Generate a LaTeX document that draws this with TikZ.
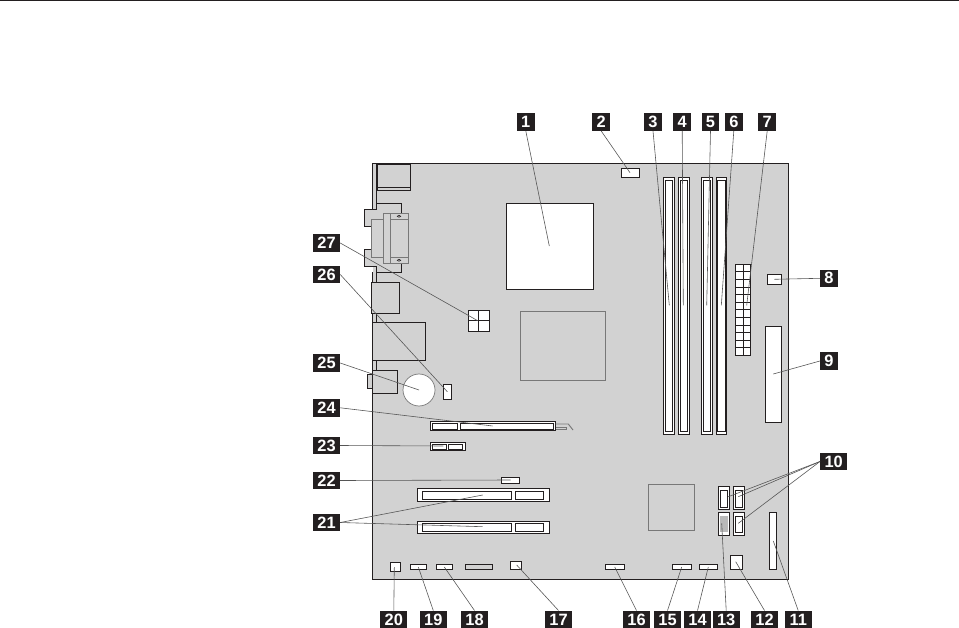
\documentclass[tikz,border=0pt]{standalone}
\usepackage{fontspec}
\setmainfont{Liberation Sans}
\usepackage{xcolor}
\definecolor{pcblack}{RGB}{35,31,32}
\definecolor{pcboard}{RGB}{210,210,210}
\definecolor{pcedge}{RGB}{120,120,120}
\definecolor{pcleader}{RGB}{85,85,85}
\definecolor{pcdrive}{RGB}{185,185,185}
\usetikzlibrary{positioning}

\begin{document}
\begin{tikzpicture}[x=0.03cm, y=-0.03cm,
    part/.style={draw=pcblack, fill=white, line width=0.7pt},
    plain/.style={draw=pcblack, line width=0.7pt},
    soft/.style={draw=pcedge, line width=0.8pt},
    leader/.style={draw=pcleader, line width=0.5pt},
    callout/.style={fill=pcblack, text=white, font=\fontsize{14}{14}\selectfont\bfseries, inner sep=0pt, minimum width=0.53cm, minimum height=0.525cm},
    calloutwide/.style={callout, minimum width=0.81cm}]
  \useasboundingbox (0,0) rectangle (959,628);

  % Page rule
  \draw[pcblack, line width=0.8pt] (0,0.6) -- (959,0.6);

  % Board
  \fill[pcboard] (372.5,163.5) rectangle (788.5,579.5);
  \draw[plain, line width=0.8pt] (372.5,209.3) -- (372.5,163.5) -- (788.5,163.5) -- (788.5,579.5) -- (372.5,579.5) -- (372.5,272.3);

  % Rear connectors
  \draw[plain] (376.7,163.5) -- (376.7,203.3);
  \draw[plain] (377.3,164) rectangle (410.7,190);
  \draw[plain] (377.3,187.5) -- (410.7,187.5);
  \draw[plain, fill=pcboard] (401.7,212.7) -- (401.7,203.3) -- (376.7,203.3) -- (376.7,209.3) -- (364.3,209.3) -- (364.3,226.3) -- (371.3,226.3);
  \draw[plain, fill=pcboard] (371.3,249.3) -- (364.3,249.3) -- (364.3,266.3) -- (376.7,266.3) -- (376.7,272.3) -- (401.7,272.3) -- (401.7,263.3);
  \draw[soft, fill=pcboard] (371.3,219.3) -- (383.7,219.3) -- (383.7,213.3) -- (408.3,213.3) -- (408.3,263.3) -- (383.7,263.3) -- (383.7,257.7) -- (371.3,257.7) -- cycle;
  \draw[soft] (383.7,219.3) -- (383.7,257.7);
  \draw[soft] (390.7,213.3) -- (390.7,263.3);
  \draw[soft] (390.7,219.3) -- (408.3,219.3);
  \draw[soft] (390.7,257.3) -- (408.3,257.3);
  \draw[plain, line width=0.5pt] (399,216.3) ellipse (1.7 and 1);
  \draw[plain, line width=0.5pt] (399,260.3) ellipse (1.7 and 1);
  \draw[plain] (372.5,272.3) -- (372.5,282.3) (376.7,272.3) -- (376.7,282.3);
  \draw[plain, fill=pcboard] (371.3,282.3) rectangle (399.3,313.3);
  \draw[plain] (376.7,313.3) -- (376.7,322.3);
  \draw[plain] (372.5,322.3) rectangle (425.7,360.3);
  \draw[plain] (376.7,360.3) -- (376.7,370.3);
  \draw[plain, fill=pcboard] (367.3,374) rectangle (372.5,388.7);
  \draw[plain] (372.5,370.3) rectangle (397.7,393.3);

  % Processor and chips
  \draw[part] (506.3,203.3) rectangle (593,289.3);
  \draw[soft] (520,311.3) rectangle (605,380.3);
  \draw[soft] (648.3,484.3) rectangle (694.7,530.7);

  % Battery, small headers
  \draw[draw=pcedge, fill=white, line width=0.6pt] (419,390) circle (16);
  \draw[part] (443.3,384.3) rectangle (451.3,399.3);
  \draw[part] (468.3,310.7) rectangle (489.3,331.3);
  \draw[plain] (478.7,310.7) -- (478.7,331.3) (468.3,320.7) -- (489.3,320.7);
  \draw[part] (621.3,168.3) rectangle (639.7,177.3);

  % Memory slots
  \draw[part] (663.3,177.3) rectangle (674.7,434.7);
  \draw[part] (665.5,180.3) rectangle (672.5,431.3);
  \draw[part] (678.3,177.3) rectangle (689.7,434.7);
  \draw[part] (680.5,180.3) rectangle (687.5,431.3);
  \draw[part] (701.3,177.3) rectangle (712.7,434.7);
  \draw[part] (703.5,180.3) rectangle (710.5,431.3);
  \draw[part] (716.3,177.3) rectangle (726.7,434.7);
  \draw[part, line width=1.1pt] (717.3,180.3) rectangle (725.7,431.3);

  % Power connector
  \draw[part] (735.3,264.3) rectangle (750.7,355.7);
  \draw[plain] (742.9,264.3) -- (742.9,355.7)
    (735.3,271.9) -- (750.7,271.9) (735.3,279.5) -- (750.7,279.5)
    (735.3,287.1) -- (750.7,287.1) (735.3,294.7) -- (750.7,294.7)
    (735.3,302.3) -- (750.7,302.3) (735.3,309.9) -- (750.7,309.9)
    (735.3,317.5) -- (750.7,317.5) (735.3,325.1) -- (750.7,325.1)
    (735.3,332.7) -- (750.7,332.7) (735.3,340.3) -- (750.7,340.3)
    (735.3,347.9) -- (750.7,347.9);
  \draw[part] (767.3,274.3) rectangle (781.7,284.7);
  \draw[part] (765.3,326.3) rectangle (781.7,422.7);

  % Graphics slot
  \draw[part] (430.3,421.3) rectangle (555.7,430.7);
  \draw[part] (432.3,423.3) rectangle (457.7,429.3);
  \draw[part] (460.3,423.3) rectangle (553.7,429.3);
  \draw[soft] (555.7,424) -- (568.3,424) -- (573,430);
  \draw[soft] (555.7,427) -- (566,427) -- (566,429.5) -- (555.7,429.5);

  % Short slot
  \draw[part] (430.3,442.3) rectangle (465.7,450.3);
  \draw[part] (432.3,444.3) rectangle (446.7,449);
  \draw[part] (448.3,444.3) rectangle (462.7,449);
  \draw[part] (501.3,477.3) rectangle (519.7,483.3);

  % PCI slots
  \draw[part] (417.3,488.3) rectangle (549.7,501.7);
  \draw[part] (422.3,491.3) rectangle (511.7,499.7);
  \draw[part] (515.3,491.3) rectangle (543.7,499.7);
  \draw[part] (417.3,521.3) rectangle (549.7,533.7);
  \draw[part] (422.3,523.3) rectangle (511.7,531.7);
  \draw[part] (515.3,523.3) rectangle (543.7,531.7);

  % Bottom headers
  \draw[part] (390.3,562.3) rectangle (400.7,571.7);
  \draw[part] (410.3,564.3) rectangle (426.7,569.7);
  \draw[part] (436.3,564.3) rectangle (452.7,569.7);
  \draw[plain] (465.3,564.3) rectangle (492.7,569.7);
  \draw[part] (510.3,561.3) rectangle (521.7,569.7);
  \draw[part] (605.3,564.3) rectangle (624.7,569.7);
  \draw[part] (672.3,564.3) rectangle (691.7,569.7);
  \draw[part] (699.3,564.3) rectangle (717.7,569.7);
  \draw[part] (730.3,555.3) rectangle (742.7,569.7);
  \draw[part] (769.3,512.3) rectangle (776.7,569.7);

  % Drive connectors
  \draw[part] (718.3,486.3) rectangle (729.7,509.7);
  \draw[part] (720.3,490.7) rectangle (727.7,507);
  \draw[part] (733.3,486.3) rectangle (744.7,509.7);
  \draw[part] (735.3,490.7) rectangle (742.7,507);
  \draw[part] (718.3,512.3) rectangle (729.7,535.7);
  \fill[pcdrive] (720.3,516.3) rectangle (727.7,532.3);
  \draw[part] (733.3,512.3) rectangle (744.7,535.7);
  \draw[part] (735.3,516.3) rectangle (742.7,532.3);

  % Callouts
  \node[callout] (c1) at (525.8,122) {1};
  \node[callout] (c2) at (601.2,122) {2};
  \node[callout] (c3) at (653,122) {3};
  \node[callout] (c4) at (682.2,122) {4};
  \node[callout] (c5) at (710.5,122) {5};
  \node[callout] (c6) at (733.8,122) {6};
  \node[callout] (c7) at (767.2,122) {7};
  \node[callout] (c8) at (829,278.3) {8};
  \node[callout] (c9) at (829,361) {9};
  \node[calloutwide] (c10) at (833.7,461.5) {10};
  \node[calloutwide] (c11) at (798.2,619.5) {11};
  \node[calloutwide] (c12) at (764.5,619.5) {12};
  \node[calloutwide] (c13) at (726.2,619.5) {13};
  \node[calloutwide] (c14) at (697.5,619.5) {14};
  \node[calloutwide] (c15) at (667.5,619.5) {15};
  \node[calloutwide] (c16) at (636.5,619.5) {16};
  \node[calloutwide] (c17) at (558.5,619.5) {17};
  \node[calloutwide] (c18) at (474.5,619.5) {18};
  \node[calloutwide] (c19) at (433.3,619.5) {19};
  \node[calloutwide] (c20) at (393.8,619.5) {20};
  \node[calloutwide] (c21) at (326.5,522.5) {21};
  \node[calloutwide] (c22) at (326.5,480.5) {22};
  \node[calloutwide] (c23) at (326.5,445.5) {23};
  \node[calloutwide] (c24) at (326.5,407.8) {24};
  \node[calloutwide] (c25) at (326.5,363) {25};
  \node[calloutwide] (c26) at (326.5,274.5) {26};
  \node[calloutwide] (c27) at (326.5,243) {27};

  % Leader ends
  \coordinate (e1) at (549.3,246);
  \coordinate (e2) at (630,172.7);
  \coordinate (e3) at (669.3,305.3);
  \coordinate (e4) at (683.3,305.3);
  \coordinate (e5) at (706.7,305.3);
  \coordinate (e6) at (721.3,305.3);
  \coordinate (e7) at (746.7,305.3);
  \coordinate (e8) at (774.3,279.3);
  \coordinate (e9) at (773.3,374);
  \coordinate (e10a) at (728.3,496.7);
  \coordinate (e10b) at (738.3,496.7);
  \coordinate (e10c) at (738.3,523.3);
  \coordinate (e11) at (773.3,541);
  \coordinate (e12) at (735.7,561.7);
  \coordinate (e13) at (721.7,523.3);
  \coordinate (e14) at (708.3,567);
  \coordinate (e15) at (681.7,567);
  \coordinate (e16) at (614.7,567);
  \coordinate (e17) at (516.7,565);
  \coordinate (e18) at (444.3,567);
  \coordinate (e19) at (418.3,567);
  \coordinate (e20) at (394.3,567);
  \coordinate (e21a) at (482.7,495);
  \coordinate (e21b) at (482.7,526.7);
  \coordinate (e22) at (510.7,480);
  \coordinate (e23) at (443.3,446);
  \coordinate (e24) at (492.7,426);
  \coordinate (e25) at (419,390);
  \coordinate (e26) at (447.3,391.7);
  \coordinate (e27) at (477.7,320.7);

  % Leaders
  \draw[leader] (c1.south) -- (e1);
  \draw[leader] (c2.south) -- (e2);
  \draw[leader] (c3.south) -- (e3);
  \draw[leader] (c4.south) -- (e4);
  \draw[leader] (c5.south) -- (e5);
  \draw[leader] (c6.south) -- (e6);
  \draw[leader] (c7.south) -- (e7);
  \draw[leader] (c8.west) -- (e8);
  \draw[leader] (c9.west) -- (e9);
  \draw[leader] (c10.west) -- (e10a);
  \draw[leader] (c10.west) -- (e10b);
  \draw[leader] (c10.west) -- (e10c);
  \draw[leader] (c11.north) -- (e11);
  \draw[leader] (c12.north) -- (e12);
  \draw[leader] (c13.north) -- (e13);
  \draw[leader] (c14.north) -- (e14);
  \draw[leader] (c15.north) -- (e15);
  \draw[leader] (c16.north) -- (e16);
  \draw[leader] (c17.north) -- (e17);
  \draw[leader] (c18.north) -- (e18);
  \draw[leader] (c19.north) -- (e19);
  \draw[leader] (c20.north) -- (e20);
  \draw[leader] (c21.east) -- (e21a);
  \draw[leader] (c21.east) -- (e21b);
  \draw[leader] (c22.east) -- (e22);
  \draw[leader] (c23.east) -- (e23);
  \draw[leader] (c24.east) -- (e24);
  \draw[leader] (c25.east) -- (e25);
  \draw[leader] (c26.east) -- (e26);
  \draw[leader] (c27.east) -- (e27);
\end{tikzpicture}
\end{document}
